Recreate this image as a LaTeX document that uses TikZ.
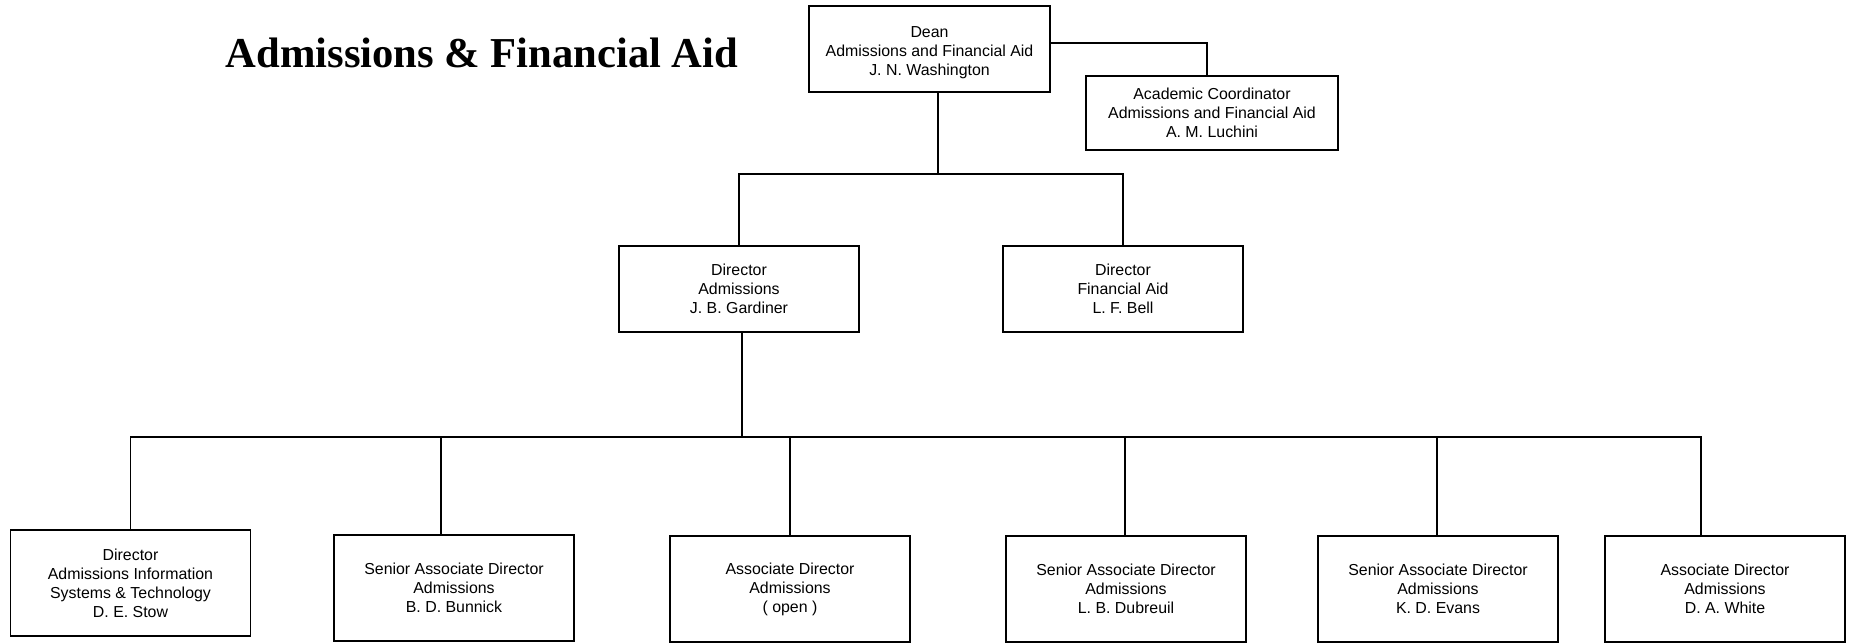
\documentclass[tikz,border=0pt]{standalone}
\usepackage{fontspec}
\setmainfont{Liberation Sans}
\newfontfamily\titlefont{Liberation Serif}
\usetikzlibrary{calc,positioning}

\begin{document}
\begin{tikzpicture}[x=0.629pt, y=-0.629pt, line cap=rect, line join=miter]
    \tikzset{
        office/.style={draw=black, line width=1.2pt, rectangle, align=center, inner sep=2pt,
            font=\fontsize{10}{12}\selectfont, minimum width=151pt, minimum height=54.1pt},
        staff/.style={office, minimum height=66.7pt},
        link/.style={draw=black, line width=1.2pt},
        heading/.style={font=\titlefont\bfseries\fontsize{26.8}{30}\selectfont, inner sep=0pt}
    }

    \useasboundingbox (0,0) rectangle (1855,642);

    % Title
    \node[heading] (title) at (482,53) {Admissions \& Financial Aid};

    % Top level
    \node[office, minimum width=151.6pt] (dean) at (929.5,49)
        {\rule{0pt}{11pt}Dean\\Admissions and Financial Aid\\J. N. Washington};
    \node[office, minimum width=158.5pt, minimum height=46.5pt] (coord) at (1212,113)
        {Academic Coordinator\\Admissions and Financial Aid\\A. M. Luchini};

    % Directors
    \node[office] (adm) at (739,289) {Director\\Admissions\\J. B. Gardiner};
    \node[office] (fa) at (1123,289) {Director\\Financial Aid\\L. F. Bell};

    % Admissions staff
    \node[staff] (stow) at (130.5,583)
        {Director\\Admissions Information\\Systems \& Technology\\D. E. Stow};
    \node[staff] (bunnick) at (454,588) {Senior Associate Director\\Admissions\\B. D. Bunnick};
    \node[staff] (open) at (790,589) {Associate Director\\Admissions\\( open )};
    \node[staff] (dubreuil) at (1126,589) {Senior Associate Director\\Admissions\\L. B. Dubreuil};
    \node[staff] (evans) at (1438,589) {Senior Associate Director\\Admissions\\K. D. Evans};
    \node[staff] (white) at (1725,589) {Associate Director\\Admissions\\D. A. White};

    % Dean to coordinator
    \draw[link] ($(dean.east)+(0,-6)$) -| ($(coord.north)+(-5,0)$);

    % Dean to directors
    \coordinate (hub1) at (938,174);
    \draw[link] (dean.south -| hub1) -- (hub1);
    \draw[link] (adm.north) |- (hub1) -| (fa.north);

    % Director of admissions to staff
    \coordinate (hub2) at (742,437);
    \coordinate (wtop) at ($(white.north)+(-24,0)$);
    \draw[link] (adm.south -| hub2) -- (hub2);
    \draw[link] (stow.north) |- (hub2) -- (wtop |- hub2) -- (wtop);
    \foreach \n/\dx in {bunnick/-13, open/0, dubreuil/-1, evans/-1} {
        \draw[link] ($(\n.north)+(\dx,0)$) coordinate (t) -- (t |- hub2);
    }
\end{tikzpicture}
\end{document}
